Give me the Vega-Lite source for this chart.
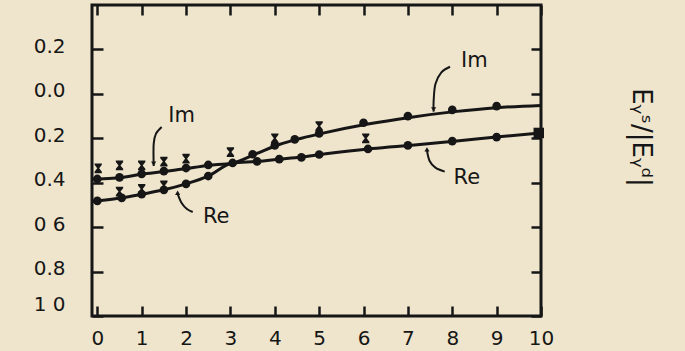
{
  "$schema": "https://vega.github.io/schema/vega-lite/v6.json",
  "width": 449,
  "height": 311,
  "autosize": {"type": "none"},
  "padding": {"left": 92, "top": 5, "right": 144, "bottom": 35},
  "background": "#efe5cd",
  "config": {
    "view": {"stroke": "#161616", "strokeWidth": 3},
    "font": "DejaVu Sans",
    "axis": {"domain": false, "grid": false, "tickColor": "#161616", "tickWidth": 2.5, "labelColor": "#161616", "titleColor": "#161616", "labelFont": "DejaVu Sans", "titleFont": "DejaVu Sans"}
  },
  "datasets": {
    "curves": [
      {"series": "Im", "x": -0.12, "y": -0.384}, {"series": "Im", "x": 0, "y": -0.383}, {"series": "Im", "x": 0.5, "y": -0.378}, {"series": "Im", "x": 1, "y": -0.362}, {"series": "Im", "x": 1.5, "y": -0.35}, {"series": "Im", "x": 2, "y": -0.336}, {"series": "Im", "x": 2.5, "y": -0.322}, {"series": "Im", "x": 3.05, "y": -0.311}, {"series": "Im", "x": 3.6, "y": -0.268}, {"series": "Im", "x": 4.1, "y": -0.228}, {"series": "Im", "x": 4.6, "y": -0.2}, {"series": "Im", "x": 5.06, "y": -0.178}, {"series": "Im", "x": 6.1, "y": -0.136}, {"series": "Im", "x": 7.04, "y": -0.106}, {"series": "Im", "x": 8.05, "y": -0.08}, {"series": "Im", "x": 9, "y": -0.062}, {"series": "Im", "x": 10, "y": -0.052},
      {"series": "Re", "x": -0.12, "y": -0.485}, {"series": "Re", "x": 0, "y": -0.482}, {"series": "Re", "x": 0.5, "y": -0.47}, {"series": "Re", "x": 1, "y": -0.452}, {"series": "Re", "x": 1.5, "y": -0.432}, {"series": "Re", "x": 2, "y": -0.405}, {"series": "Re", "x": 2.5, "y": -0.37}, {"series": "Re", "x": 3.05, "y": -0.311}, {"series": "Re", "x": 3.6, "y": -0.304}, {"series": "Re", "x": 4.1, "y": -0.294}, {"series": "Re", "x": 4.6, "y": -0.284}, {"series": "Re", "x": 5.06, "y": -0.272}, {"series": "Re", "x": 6.2, "y": -0.246}, {"series": "Re", "x": 7.15, "y": -0.23}, {"series": "Re", "x": 8.1, "y": -0.212}, {"series": "Re", "x": 9.05, "y": -0.193}, {"series": "Re", "x": 10, "y": -0.176}
    ],
    "dots": [
      {"series": "Im", "x": 0, "y": -0.383}, {"series": "Im", "x": 0.5, "y": -0.376}, {"series": "Im", "x": 1, "y": -0.36}, {"series": "Im", "x": 1.5, "y": -0.348}, {"series": "Im", "x": 2, "y": -0.334}, {"series": "Im", "x": 2.5, "y": -0.32}, {"series": "Im", "x": 3.5, "y": -0.272}, {"series": "Im", "x": 4, "y": -0.232}, {"series": "Im", "x": 4.45, "y": -0.205}, {"series": "Im", "x": 5, "y": -0.178}, {"series": "Im", "x": 6, "y": -0.13}, {"series": "Im", "x": 7, "y": -0.1}, {"series": "Im", "x": 8, "y": -0.072}, {"series": "Im", "x": 9, "y": -0.055},
      {"series": "Re", "x": 0, "y": -0.482}, {"series": "Re", "x": 0.55, "y": -0.468}, {"series": "Re", "x": 1, "y": -0.452}, {"series": "Re", "x": 1.5, "y": -0.432}, {"series": "Re", "x": 2, "y": -0.405}, {"series": "Re", "x": 2.5, "y": -0.37}, {"series": "Re", "x": 3.05, "y": -0.311}, {"series": "Re", "x": 3.6, "y": -0.304}, {"series": "Re", "x": 4.1, "y": -0.294}, {"series": "Re", "x": 4.6, "y": -0.286}, {"series": "Re", "x": 5, "y": -0.273}, {"series": "Re", "x": 6.1, "y": -0.248}, {"series": "Re", "x": 7, "y": -0.232}, {"series": "Re", "x": 8, "y": -0.213}, {"series": "Re", "x": 9, "y": -0.195}
    ],
    "squares": [
      {"series": "Re", "x": 9.95, "y": -0.176}
    ],
    "crosses": [
      {"x": 0.02, "y": -0.335}, {"x": 0.5, "y": -0.322}, {"x": 1, "y": -0.322}, {"x": 1.5, "y": -0.305}, {"x": 2, "y": -0.292}, {"x": 3, "y": -0.262}, {"x": 4, "y": -0.2}, {"x": 5, "y": -0.145}, {"x": 6.05, "y": -0.2},
      {"x": 0.5, "y": -0.44}, {"x": 1, "y": -0.428}, {"x": 1.5, "y": -0.412}
    ],
    "arrows": [
      {"id": "a1", "i": 0, "x": 1.45, "y": -0.149}, {"id": "a1", "i": 1, "x": 1.32, "y": -0.18}, {"id": "a1", "i": 2, "x": 1.27, "y": -0.225}, {"id": "a1", "i": 3, "x": 1.27, "y": -0.325},
      {"id": "a2", "i": 0, "x": 2.15, "y": -0.532}, {"id": "a2", "i": 1, "x": 2.02, "y": -0.518}, {"id": "a2", "i": 2, "x": 1.9, "y": -0.491}, {"id": "a2", "i": 3, "x": 1.81, "y": -0.45},
      {"id": "a3", "i": 0, "x": 7.95, "y": 0.122}, {"id": "a3", "i": 1, "x": 7.75, "y": 0.096}, {"id": "a3", "i": 2, "x": 7.62, "y": 0.044}, {"id": "a3", "i": 3, "x": 7.58, "y": -0.032}, {"id": "a3", "i": 4, "x": 7.58, "y": -0.08},
      {"id": "a4", "i": 0, "x": 7.83, "y": -0.35}, {"id": "a4", "i": 1, "x": 7.62, "y": -0.332}, {"id": "a4", "i": 2, "x": 7.49, "y": -0.302}, {"id": "a4", "i": 3, "x": 7.43, "y": -0.255}
    ],
    "heads": [
      {"dir": "down", "x": 1.27, "y": -0.315}, {"dir": "up", "x": 1.81, "y": -0.445}, {"dir": "down", "x": 7.58, "y": -0.07}, {"dir": "up", "x": 7.43, "y": -0.25}
    ],
    "labels": [
      {"text": "Im", "x": 1.9, "y": -0.099}, {"text": "Im", "x": 8.5, "y": 0.149}, {"text": "Re", "x": 2.68, "y": -0.554}, {"text": "Re", "x": 8.33, "y": -0.378}
    ]
  },
  "resolve": {"axis": {"x": "independent", "y": "independent"}},
  "layer": [
    {
      "data": {"name": "curves"},
      "mark": {"type": "line", "color": "#161616", "strokeWidth": 3, "interpolate": "monotone", "clip": true},
      "encoding": {
        "x": {"field": "x", "type": "quantitative", "scale": {"domain": [-0.12, 10], "nice": false, "zero": false},
          "axis": {"orient": "bottom", "values": [0, 1, 2, 3, 4, 5, 6, 7, 8, 9, 10], "tickSize": -10, "labelPadding": 22, "labelFontSize": 20, "title": null, "labelFlush": false}},
        "y": {"field": "y", "type": "quantitative", "scale": {"domain": [-1.0, 0.4], "nice": false, "zero": false},
          "axis": {"orient": "left", "values": [0.2, 0, -0.2, -0.4, -0.6, -0.8, -1.0], "tickSize": -11, "labelPadding": 38, "labelFontSize": 20, "title": null, "labelFlush": false,
            "labelOffset": {"condition": {"test": "datum.value == -1", "value": -12}, "value": -3},
            "labelExpr": "datum.value == -0.6 ? '0 6' : datum.value == -1 ? '1 0' : format(abs(datum.value), '.1f')"}},
        "detail": {"field": "series"}
      }
    },
    {
      "data": {"name": "dots"},
      "mark": {"type": "point", "shape": "circle", "filled": true, "opacity": 1, "color": "#161616", "size": 75},
      "encoding": {
        "x": {"field": "x", "type": "quantitative",
          "axis": {"orient": "top", "values": [0, 1, 2, 3, 4, 5, 6, 7, 8, 9, 10], "tickSize": -10, "labels": false, "title": null}},
        "y": {"field": "y", "type": "quantitative",
          "axis": {"orient": "right", "values": [0.2, 0, -0.2, -0.4, -0.6, -0.8, -1.0], "tickSize": -10, "labels": false,
            "title": "Eᵧˢ/|Eᵧᵈ|", "titleAngle": 90, "titleFontSize": 26, "titleFontWeight": "normal", "titleX": 99, "titleY": 132, "titleAlign": "center", "titleBaseline": "middle"}}
      }
    },
    {
      "data": {"name": "squares"},
      "mark": {"type": "point", "shape": "square", "filled": true, "opacity": 1, "color": "#161616", "size": 110},
      "encoding": {
        "x": {"field": "x", "type": "quantitative", "axis": null},
        "y": {"field": "y", "type": "quantitative", "axis": null}
      }
    },
    {
      "data": {"name": "crosses"},
      "mark": {"type": "point", "shape": "M-0.75,-1L0.75,-1L0.75,-0.7L0.2,0L0.75,0.7L0.75,1L-0.75,1L-0.75,0.7L-0.2,0L-0.75,-0.7Z", "filled": true, "opacity": 1, "color": "#161616", "size": 95},
      "encoding": {
        "x": {"field": "x", "type": "quantitative", "axis": null},
        "y": {"field": "y", "type": "quantitative", "axis": null}
      }
    },
    {
      "data": {"name": "arrows"},
      "mark": {"type": "line", "color": "#161616", "strokeWidth": 2, "interpolate": "cardinal"},
      "encoding": {
        "x": {"field": "x", "type": "quantitative", "axis": null},
        "y": {"field": "y", "type": "quantitative", "axis": null},
        "detail": {"field": "id"},
        "order": {"field": "i", "type": "quantitative"}
      }
    },
    {
      "data": {"name": "heads"},
      "mark": {"type": "point", "filled": true, "opacity": 1, "color": "#161616", "size": 26},
      "encoding": {
        "x": {"field": "x", "type": "quantitative", "axis": null},
        "y": {"field": "y", "type": "quantitative", "axis": null},
        "shape": {"field": "dir", "type": "nominal", "scale": {"domain": ["down", "up"], "range": ["triangle-down", "triangle-up"]}, "legend": null}
      }
    },
    {
      "data": {"name": "labels"},
      "mark": {"type": "text", "font": "DejaVu Sans", "fontSize": 21, "color": "#161616", "align": "center", "baseline": "middle"},
      "encoding": {
        "x": {"field": "x", "type": "quantitative", "axis": null},
        "y": {"field": "y", "type": "quantitative", "axis": null},
        "text": {"field": "text"}
      }
    }
  ]
}
